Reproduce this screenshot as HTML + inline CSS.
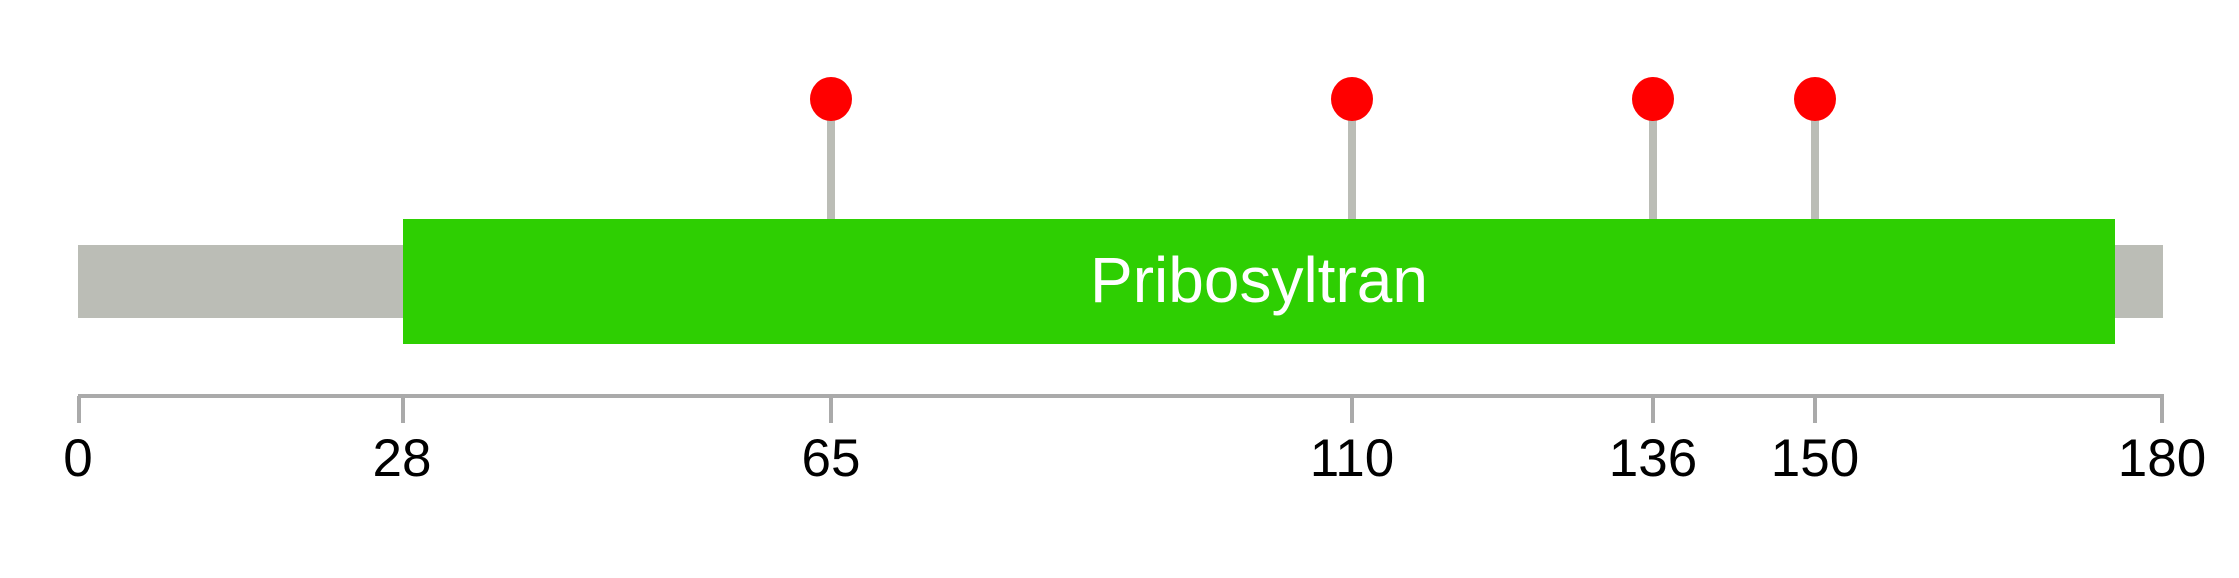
<!DOCTYPE html>
<html><head><style>html,body{margin:0;padding:0;background:#fff;}svg{display:block}</style></head>
<body>
<svg width="2239" height="578" viewBox="0 0 2239 578" xmlns="http://www.w3.org/2000/svg" font-family="Liberation Sans, Arial, sans-serif">
<rect x="78" y="245" width="2085" height="73" fill="#bbbdb6"/>
<g stroke="#bbbdb6" stroke-width="8">
<line x1="831" y1="100" x2="831" y2="220"/>
<line x1="1352" y1="100" x2="1352" y2="220"/>
<line x1="1653" y1="100" x2="1653" y2="220"/>
<line x1="1815" y1="100" x2="1815" y2="220"/>
</g>
<rect x="403" y="219" width="1712" height="125" fill="#2ecf02"/>
<text x="1259" y="302" font-size="64" fill="#fff" text-anchor="middle">Pribosyltran</text>
<g fill="#ff0000">
<ellipse cx="831" cy="99" rx="21" ry="22"/>
<ellipse cx="1352" cy="99" rx="21" ry="22"/>
<ellipse cx="1653" cy="99" rx="21" ry="22"/>
<ellipse cx="1815" cy="99" rx="21" ry="22"/>
</g>
<g stroke="#aaaaaa" stroke-width="4">
<line x1="78" y1="396" x2="2164" y2="396"/>
<line x1="79" y1="396" x2="79" y2="423"/>
<line x1="403" y1="396" x2="403" y2="423"/>
<line x1="831" y1="396" x2="831" y2="423"/>
<line x1="1352" y1="396" x2="1352" y2="423"/>
<line x1="1653" y1="396" x2="1653" y2="423"/>
<line x1="1815" y1="396" x2="1815" y2="423"/>
<line x1="2162" y1="396" x2="2162" y2="423"/>
</g>
<g font-size="53" fill="#000" text-anchor="middle">
<text x="78" y="476">0</text>
<text x="402" y="476">28</text>
<text x="831" y="476">65</text>
<text x="1352" y="476">110</text>
<text x="1653" y="476">136</text>
<text x="1815" y="476">150</text>
<text x="2162" y="476">180</text>
</g>
</svg>
</body></html>
